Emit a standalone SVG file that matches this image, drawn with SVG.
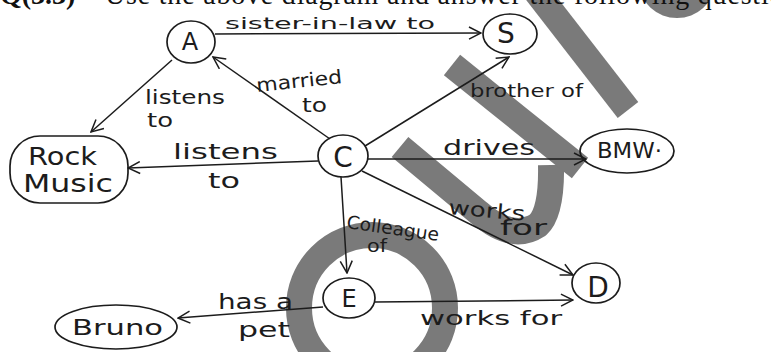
<svg xmlns="http://www.w3.org/2000/svg" width="771" height="352" viewBox="0 0 771 352">
<defs>
<style>
.wm{fill:none;stroke:#7a7a7a;stroke-width:26}
.nd{fill:none;stroke:#1c1c1c;stroke-width:1.7}
.ed{fill:none;stroke:#1c1c1c;stroke-width:1.5;marker-end:url(#arr)}
.nt{font-family:"DejaVu Sans",sans-serif;fill:#1c1c1c}
.lb{font-family:"DejaVu Sans",sans-serif;fill:#1c1c1c}
.hd{font-family:"Liberation Serif",serif;font-size:28px;fill:#111}
</style>
<marker id="arr" viewBox="0 0 14 14" refX="13" refY="7" markerWidth="14" markerHeight="14" markerUnits="userSpaceOnUse" orient="auto"><path d="M1,1 L13,7 L1,13" fill="none" stroke="#1c1c1c" stroke-width="1.5"/></marker>
</defs>
<rect width="771" height="352" fill="#fff"/>
<g id="watermark">
<circle class="wm" cx="372" cy="308" r="73" stroke-width="27"/>
<path class="wm" d="M400,147 L478,212 Q512,242 538,225 Q552,212 551,165"/>
<line class="wm" x1="452" y1="65" x2="580" y2="168"/>
<line class="wm" x1="517" y1="-33" x2="628" y2="110" stroke-width="27"/>
<ellipse cx="677" cy="-16" rx="37" ry="34" fill="#7a7a7a"/>
</g>
<g id="header">
<text class="hd" x="0" y="4" font-weight="bold">Q(3.3)</text>
<text class="hd" x="105" y="4" textLength="705" lengthAdjust="spacing">Use the above diagram and answer the following questions</text>
</g>
<g id="connectors">
<path class="ed" d="M215,34 L481,33"/>
<path class="ed" d="M330,139 L213,57"/>
<path class="ed" d="M172,60 L91,132"/>
<path class="ed" d="M365,146 L509,57"/>
<path class="ed" d="M318,161 L128,168"/>
<path class="ed" d="M368,159 L586,159"/>
<path class="ed" d="M362,171 L573,275"/>
<path class="ed" d="M341,177 L347,273"/>
<path class="ed" d="M375,302 L573,300"/>
<path class="ed" d="M323,307 L178,318"/>
</g>
<g id="labels">
<text class="lb" x="225" y="29" font-size="16" textLength="210" lengthAdjust="spacingAndGlyphs">sister-in-law to</text>
<text class="lb" x="145" y="104" font-size="19" textLength="80" lengthAdjust="spacingAndGlyphs">listens</text>
<text class="lb" x="147" y="127" font-size="19" textLength="26" lengthAdjust="spacingAndGlyphs">to</text>
<text class="lb" x="257" y="92" font-size="19" textLength="86" lengthAdjust="spacingAndGlyphs" transform="rotate(-6 257 92)">married</text>
<text class="lb" x="302" y="112" font-size="19" textLength="25" lengthAdjust="spacingAndGlyphs">to</text>
<text class="lb" x="470" y="97" font-size="18" textLength="113" lengthAdjust="spacingAndGlyphs">brother of</text>
<text class="lb" x="173" y="159" font-size="22" textLength="105" lengthAdjust="spacingAndGlyphs">listens</text>
<text class="lb" x="208" y="188" font-size="22" textLength="32" lengthAdjust="spacingAndGlyphs">to</text>
<text class="lb" x="443" y="155" font-size="22" textLength="92" lengthAdjust="spacingAndGlyphs">drives</text>
<text class="lb" x="448" y="214" font-size="20" textLength="77" lengthAdjust="spacingAndGlyphs" transform="rotate(5 448 214)">works</text>
<text class="lb" x="500" y="235" font-size="22" textLength="47" lengthAdjust="spacingAndGlyphs">for</text>
<text class="lb" x="346" y="228" font-size="18" textLength="93" lengthAdjust="spacingAndGlyphs" transform="rotate(8 346 228)">Colleague</text>
<text class="lb" x="367" y="252" font-size="18" textLength="20" lengthAdjust="spacingAndGlyphs">of</text>
<text class="lb" x="218" y="309" font-size="22" textLength="75" lengthAdjust="spacingAndGlyphs">has a</text>
<text class="lb" x="238" y="337" font-size="22" textLength="52" lengthAdjust="spacingAndGlyphs">pet</text>
<text class="lb" x="420" y="325" font-size="20" textLength="142" lengthAdjust="spacingAndGlyphs">works for</text>
</g>
<g id="node-A"><ellipse class="nd" cx="191" cy="42" rx="24" ry="21"/><text class="nt" x="190" y="50" font-size="24" text-anchor="middle">A</text></g>
<g id="node-S"><ellipse class="nd" cx="510" cy="34" rx="27" ry="20"/><text class="nt" x="506" y="43" font-size="28" text-anchor="middle">S</text></g>
<g id="node-C"><ellipse class="nd" cx="343" cy="156" rx="25" ry="21"/><text class="nt" x="343" y="167" font-size="28" text-anchor="middle">C</text></g>
<g id="node-E"><ellipse class="nd" cx="349" cy="298" rx="26" ry="20"/><text class="nt" x="349" y="307" font-size="24" text-anchor="middle">E</text></g>
<g id="node-D"><ellipse class="nd" cx="596" cy="283" rx="24" ry="20"/><text class="nt" x="598" y="297" font-size="28" text-anchor="middle" font-family="Liberation Serif, serif">D</text></g>
<g id="node-BMW"><ellipse class="nd" cx="627" cy="151" rx="47" ry="22"/><text class="nt" x="597" y="158" font-size="22" textLength="65" lengthAdjust="spacingAndGlyphs">BMW·</text></g>
<g id="node-RockMusic"><rect class="nd" x="10" y="136" width="118" height="67" rx="30"/><text class="nt" x="28" y="165" font-size="24" textLength="69" lengthAdjust="spacingAndGlyphs">Rock</text><text class="nt" x="23" y="192" font-size="24" textLength="90" lengthAdjust="spacingAndGlyphs">Music</text></g>
<g id="node-Bruno"><ellipse class="nd" cx="116" cy="327" rx="61" ry="22"/><text class="nt" x="72" y="335" font-size="22" textLength="91" lengthAdjust="spacingAndGlyphs">Bruno</text></g>
</svg>
